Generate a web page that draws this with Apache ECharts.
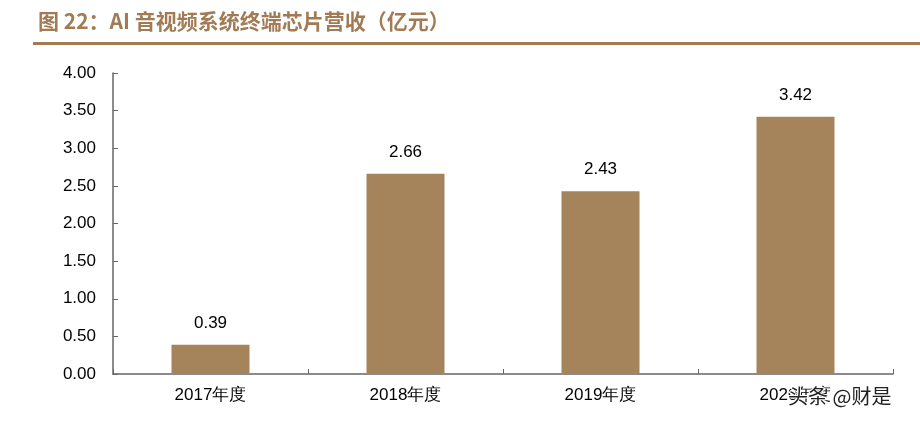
<!DOCTYPE html>
<html>
<head>
<meta charset="utf-8">
<script src="https://cdn.jsdelivr.net/npm/echarts@6/dist/echarts.min.js"></script>
<style>
  html, body { margin: 0; padding: 0; background: #fff; }
  #chart { width: 920px; height: 422px; }
</style>
</head>
<body>
<div id="chart"></div>
<script>
const categories = ['2017年度', '2018年度', '2019年度', '2020年度'];
const revenue = [0.39, 2.66, 2.43, 3.42];
const yMin = 0, yMax = 4, yStep = 0.5;

const chartDom = document.getElementById('chart');
const myChart = echarts.init(chartDom);

const brown = '#A6845B';
const font = '"Liberation Sans", Arial, sans-serif';

const option = {
    animation: false,
    title: {
        text: '图 22：AI 音视频系统终端芯片营收（亿元）',
        left: 33,
        top: 6,
        textStyle: {
            color: '#A27B55',
            fontSize: 21,
            fontWeight: 'bold',
            fontFamily: '"Noto Sans CJK SC", sans-serif'
        }
    },
    graphic: [
        {
            type: 'rect',
            shape: { x: 33, y: 42, width: 887, height: 3 },
            style: { fill: '#A27B55' }
        },
        {
            // 水印
            type: 'text',
            left: 787,
            top: 385,
            z: 100,
            style: {
                text: '头条 @财是',
                fontSize: 20,
                fill: '#222',
                stroke: '#fff',
                lineWidth: 2,
                fontFamily: '"Noto Sans CJK SC", sans-serif'
            }
        }
    ],
    grid: { left: 113, right: 27, top: 73, bottom: 48 },
    xAxis: {
        type: 'category',
        data: categories,
        axisLine: { lineStyle: { color: '#666', width: 1.5 } },
        axisTick: { show: true, inside: true, length: 5, alignWithLabel: false, lineStyle: { color: '#666' } },
        axisLabel: { color: '#000', fontSize: 17, fontFamily: font, margin: 13 }
    },
    yAxis: {
        type: 'value',
        min: yMin,
        max: yMax,
        interval: yStep,
        axisLine: { show: true, lineStyle: { color: '#666', width: 1.5 } },
        axisTick: { show: true, inside: true, length: 5, lineStyle: { color: '#666' } },
        splitLine: { show: false },
        axisLabel: {
            color: '#000',
            fontSize: 17,
            fontFamily: font,
            margin: 17,
            formatter: v => v.toFixed(2)
        }
    },
    series: [{
        type: 'bar',
        data: revenue,
        barWidth: '40%',
        itemStyle: { color: brown },
        label: {
            show: true,
            position: 'top',
            distance: 13,
            color: '#000',
            fontSize: 17,
            fontFamily: font,
            formatter: p => p.value.toFixed(2)
        }
    }]
};

myChart.setOption(option);
</script>
</body>
</html>
